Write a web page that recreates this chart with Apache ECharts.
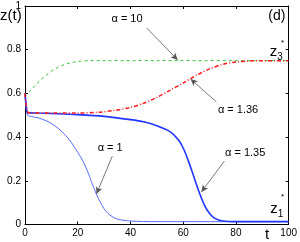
<!DOCTYPE html>
<html><head><meta charset="utf-8">
<script src="https://cdn.jsdelivr.net/npm/echarts@6/dist/echarts.min.js"></script>
<style>html,body{margin:0;padding:0;background:#fff}#c{width:300px;height:242px}</style>
</head><body><div id="c"></div>
<script>
// alpha = 10 (green dashed)
var tGreen = [0, 1, 2, 4, 6, 8, 10, 12, 15, 18, 21, 25, 30, 50, 100];
var zGreen = [0.585, 0.598, 0.612, 0.638, 0.662, 0.683, 0.701, 0.716, 0.732, 0.742, 0.747, 0.75, 0.75, 0.75, 0.75];
// alpha = 1.36 (red dash-dot)
var tRed = [0, 0.3, 0.6, 1, 2, 10, 20, 28, 34, 40, 45, 50, 55, 60, 65, 70, 75, 80, 85, 90, 100];
var zRed = [0.6, 0.56, 0.53, 0.515, 0.51, 0.51, 0.51, 0.514, 0.522, 0.536, 0.555, 0.582, 0.614, 0.648, 0.683, 0.712, 0.733, 0.744, 0.748, 0.75, 0.75];
// alpha = 1 (thin blue)
var tBlue1 = [0, 0.3, 0.6, 1, 2, 5, 8, 11, 14, 17, 20, 22, 24, 26, 28, 30, 32, 35, 40, 50, 100];
var zBlue1 = [0.6, 0.55, 0.515, 0.5, 0.495, 0.488, 0.475, 0.455, 0.425, 0.385, 0.33, 0.29, 0.235, 0.17, 0.115, 0.072, 0.045, 0.025, 0.016, 0.013, 0.013];
// alpha = 1.35 (thick blue)
var tBlue2 = [0, 0.3, 0.6, 1, 5, 10, 20, 30, 40, 45, 50, 55, 58, 60, 62, 64, 66, 68, 70, 72, 75, 80, 100];
var zBlue2 = [0.6, 0.56, 0.53, 0.512, 0.51, 0.508, 0.503, 0.495, 0.48, 0.47, 0.452, 0.425, 0.39, 0.35, 0.29, 0.22, 0.15, 0.09, 0.05, 0.028, 0.016, 0.013, 0.013];
// axis ticks
var xTicks = [0, 20, 40, 60, 80, 100];
var yTicks = [0, 0.2, 0.4, 0.6, 0.8, 1];
// annotations: text, label position [t, z], arrow from [t, z] to [t, z]
var annText = ['α = 10', 'α = 1.36', 'α = 1', 'α = 1.35'];
var annPos = [[38.7, 0.94], [80.8, 0.524], [32.3, 0.35], [83.5, 0.327]];
var arrFrom = [[46.2, 0.899], [72.6, 0.561], [33.1, 0.313], [75.6, 0.29]];
var arrTo = [[57.9, 0.753], [62.8, 0.666], [27.1, 0.14], [66.9, 0.149]];

function pairs(t, z) { return t.map(function (v, i) { return [v, z[i]]; }); }

var FONT = 'Liberation Sans, Arial, sans-serif';
var chart = echarts.init(document.getElementById('c'), null, {renderer: 'canvas'});

var axisCommon = {
  axisLine: {show: true, onZero: false, lineStyle: {color: '#000', width: 1}},
  axisTick: {show: true, inside: true, length: 3, lineStyle: {color: '#000'}},
  splitLine: {show: false}
};

var markLineData = arrFrom.map(function (f, i) {
  return [{coord: f}, {coord: arrTo[i]}];
});
var markPointData = annText.map(function (s, i) {
  return {coord: annPos[i], value: s};
});

var option = {
  animation: false,
  backgroundColor: '#fff',
  grid: {left: 25, right: 9, top: 6, bottom: 17.5, containLabel: false},
  xAxis: [
    Object.assign({type: 'value', min: 0, max: 100, interval: 20, position: 'bottom',
      axisLabel: {color: '#000', fontSize: 10, fontFamily: FONT, margin: 4,
        formatter: function (v) { return xTicks.indexOf(v) >= 0 ? String(v) : ''; }}}, axisCommon),
    Object.assign({type: 'value', min: 0, max: 100, interval: 20, position: 'top',
      axisLabel: {show: false}}, axisCommon)
  ],
  yAxis: [
    Object.assign({type: 'value', min: 0, max: 1, interval: 0.2, position: 'left',
      axisLabel: {color: '#000', fontSize: 10, fontFamily: FONT, margin: 4,
        formatter: function (v) { return yTicks.indexOf(+v.toFixed(1)) >= 0 ? String(+v.toFixed(1)) : ''; }}}, axisCommon),
    Object.assign({type: 'value', min: 0, max: 1, interval: 0.2, position: 'right',
      axisLabel: {show: false}}, axisCommon)
  ],
  series: [
    {type: 'line', data: pairs(tGreen, zGreen), showSymbol: false, smooth: 0.3, z: 3,
      lineStyle: {color: '#3cc03c', width: 1, type: [3, 3]}},
    {type: 'line', data: pairs(tBlue1, zBlue1), showSymbol: false, smooth: 0.3, z: 2,
      lineStyle: {color: '#5a6cff', width: 1}},
    {type: 'line', data: pairs(tBlue2, zBlue2), showSymbol: false, smooth: 0.3, z: 2,
      lineStyle: {color: '#1f36ff', width: 1.6}},
    {type: 'line', data: pairs(tRed, zRed), showSymbol: false, smooth: 0.3, z: 4,
      lineStyle: {color: '#ff1a1a', width: 1.5, type: [4, 2, 1, 2]}},
    {type: 'line', data: [], silent: true, z: 5,
      markLine: {silent: true, symbol: ['none', 'arrow'], symbolSize: [5, 7], animation: false,
        lineStyle: {color: '#555', width: 0.8, type: 'solid'}, label: {show: false},
        data: markLineData},
      markPoint: {silent: true, symbol: 'circle', symbolSize: 1, itemStyle: {color: 'rgba(0,0,0,0)'},
        label: {show: true, position: 'inside', color: '#000', fontSize: 11, fontFamily: FONT,
          formatter: function (p) { return p.value; }},
        data: markPointData}
    },
    {type: 'line', data: [], silent: true, z: 5,
      markPoint: {silent: true, symbol: 'circle', symbolSize: 1, itemStyle: {color: 'rgba(0,0,0,0)'},
        label: {show: true, position: 'inside', color: '#000', fontFamily: FONT,
          formatter: function (p) { return p.value; },
          rich: {
            z: {fontSize: 15, fontFamily: FONT, color: '#000'},
            s: {fontSize: 10, fontFamily: FONT, color: '#000', verticalAlign: 'bottom', padding: [10, 0, 0, 0]},
            d: {fontSize: 14, fontFamily: FONT, color: '#000'}
          }},
        data: [
          {coord: [95.3, 0.79], value: '{z|z}{s|3}'},
          {coord: [95.5, 0.07], value: '{z|z}{s|1}'},
          {coord: [95.5, 0.955], value: '{d|(d)}'}
        ]}
    }
  ],
  graphic: [
    {type: 'text', left: 0, top: 8, style: {text: 'z(t)', font: '15px ' + FONT, fill: '#000'}},
    {type: 'text', left: 265, top: 227, style: {text: 't', font: '15px ' + FONT, fill: '#000'}},
    {type: 'text', left: 281, top: 39, style: {text: '*', font: '8px ' + FONT, fill: '#000'}},
    {type: 'text', left: 281, top: 193, style: {text: '*', font: '8px ' + FONT, fill: '#000'}}
  ]
};
chart.setOption(option);
</script></body></html>
